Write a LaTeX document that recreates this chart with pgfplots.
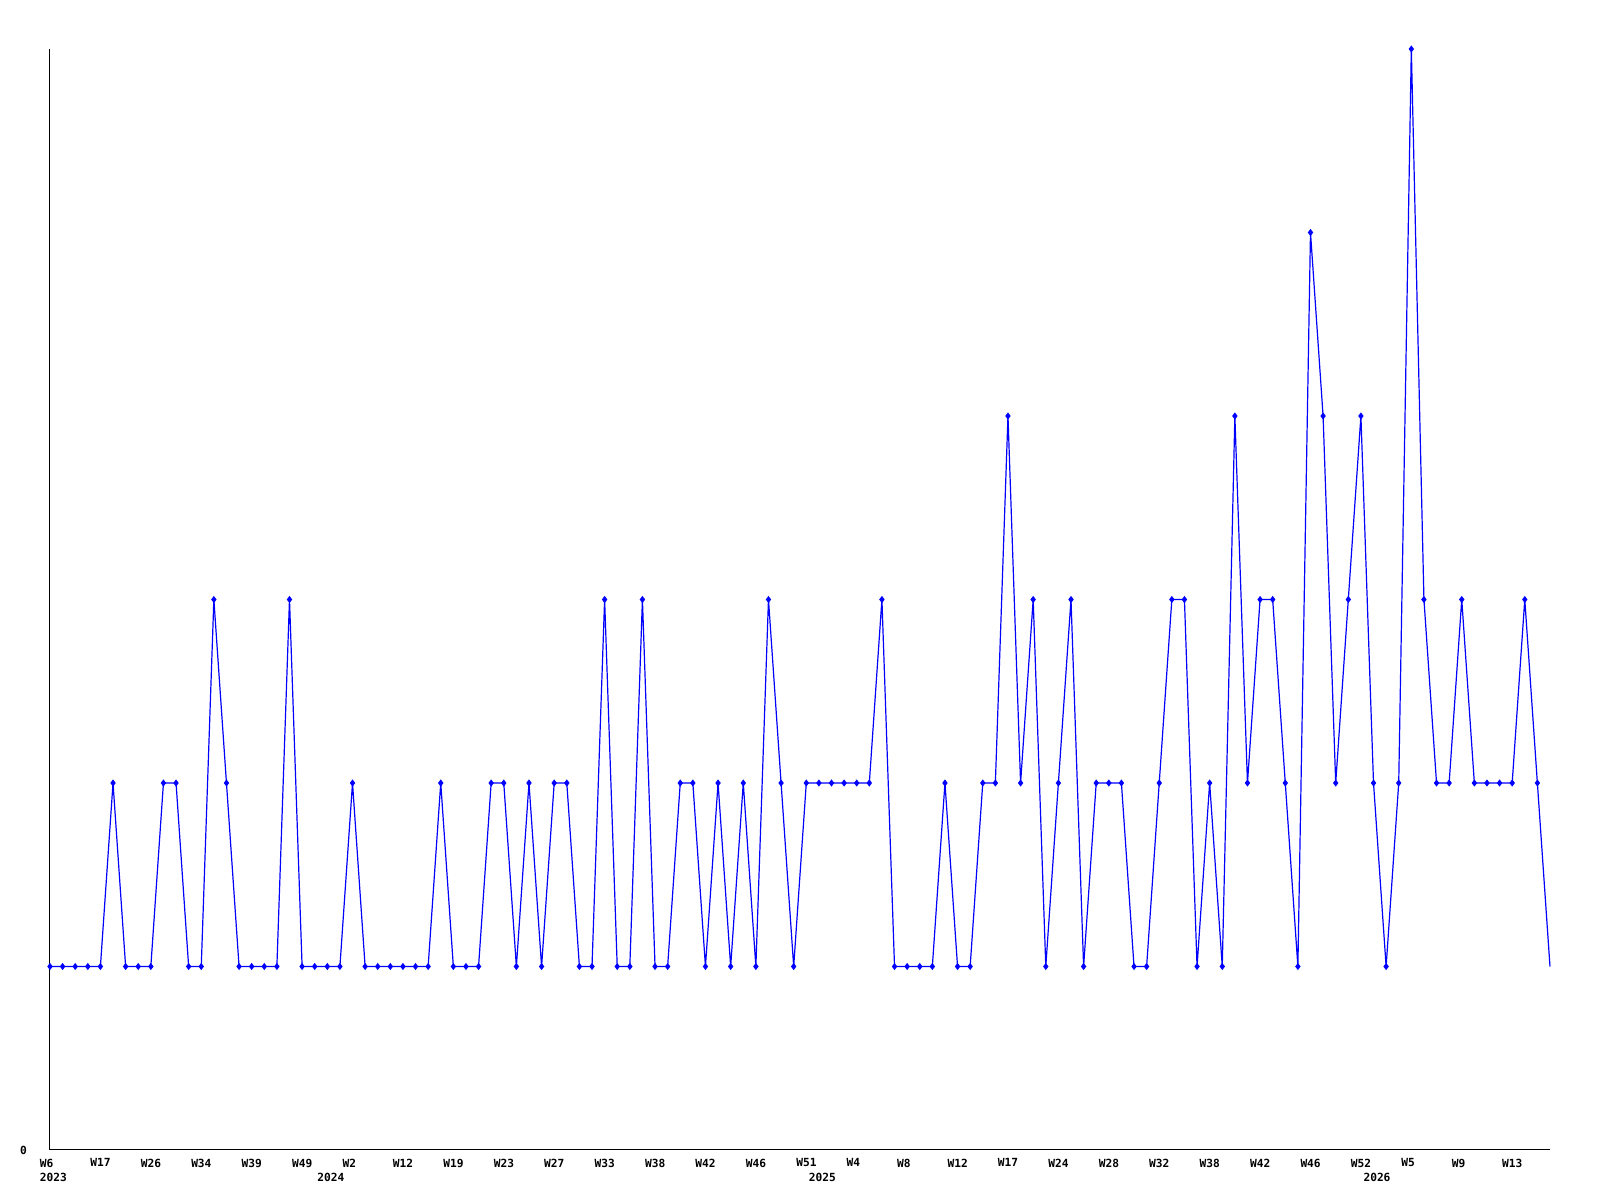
\documentclass[border=0pt]{standalone}
\usepackage{fontspec}
\setmonofont{DejaVu Sans Mono}
\usepackage{pgfplots}
\pgfplotsset{compat=1.18}
\definecolor{lineblue}{RGB}{0,0,255}
\begin{document}
\begin{tikzpicture}
\path[use as bounding box, fill=white] (-12.5pt,-12.5pt) rectangle (387.5pt,287.5pt);
\begin{axis}[
  at={(0,0)}, anchor=south west,
  scale only axis,
  width=375pt, height=275.25pt,
  xmin=0, xmax=119, ymin=0, ymax=6,
  clip=false,
  axis x line=bottom, axis y line=left,
  axis line style={-, black, line width=0.25pt},
  major tick length=0pt,
  xtick={0,4,...,116},
  xticklabels={W6,W17,W26,W34,W39,W49,W2,W12,W19,W23,W27,W33,W38,W42,W46,W51,W4,W8,W12,W17,W24,W28,W32,W38,W42,W46,W52,W5,W9,W13},
  xticklabel style={anchor=north west, inner sep=0pt, xshift=-2.7pt, yshift=-2pt, font=\fontsize{2.8}{3}\selectfont\ttfamily\bfseries},
  extra x ticks={0,22,61,105},
  extra x tick labels={2023,2024,2025,2026},
  extra x tick style={grid=none, xticklabel style={yshift=-3.6pt}},
  ytick={0},
  yticklabels={0},
  yticklabel style={anchor=east, inner sep=0pt, xshift=-5.6pt, font=\fontsize{2.8}{3}\selectfont\ttfamily\bfseries},
]
\addplot[color=lineblue, line width=0.3pt, mark=diamond*, mark size=0.65pt, mark options={solid, fill=lineblue}] coordinates {
(0,1)(1,1)(2,1)(3,1)(4,1)(5,2)(6,1)(7,1)(8,1)(9,2)
(10,2)(11,1)(12,1)(13,3)(14,2)(15,1)(16,1)(17,1)(18,1)(19,3)
(20,1)(21,1)(22,1)(23,1)(24,2)(25,1)(26,1)(27,1)(28,1)(29,1)
(30,1)(31,2)(32,1)(33,1)(34,1)(35,2)(36,2)(37,1)(38,2)(39,1)
(40,2)(41,2)(42,1)(43,1)(44,3)(45,1)(46,1)(47,3)(48,1)(49,1)
(50,2)(51,2)(52,1)(53,2)(54,1)(55,2)(56,1)(57,3)(58,2)(59,1)
(60,2)(61,2)(62,2)(63,2)(64,2)(65,2)(66,3)(67,1)(68,1)(69,1)
(70,1)(71,2)(72,1)(73,1)(74,2)(75,2)(76,4)(77,2)(78,3)(79,1)
(80,2)(81,3)(82,1)(83,2)(84,2)(85,2)(86,1)(87,1)(88,2)(89,3)
(90,3)(91,1)(92,2)(93,1)(94,4)(95,2)(96,3)(97,3)(98,2)(99,1)
(100,5)(101,4)(102,2)(103,3)(104,4)(105,2)(106,1)(107,2)(108,6)(109,3)
(110,2)(111,2)(112,3)(113,2)(114,2)(115,2)(116,2)(117,3)(118,2)
};
\addplot[color=lineblue, line width=0.3pt, mark=none] coordinates {(118,2)(119,1)};
\end{axis}
\end{tikzpicture}
\end{document}
